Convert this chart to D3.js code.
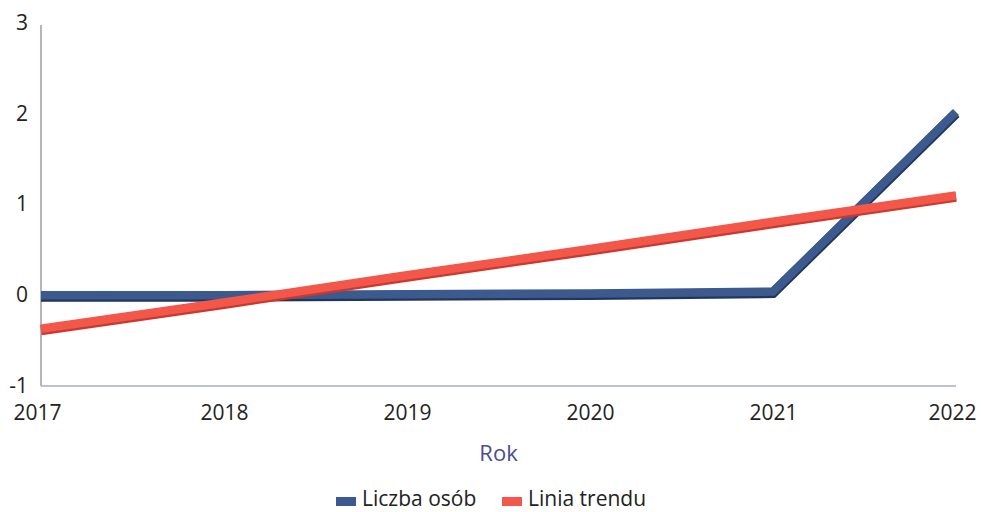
<!DOCTYPE html>
<html><head><meta charset="utf-8">
<script src="https://cdn.jsdelivr.net/npm/d3@7"></script>
<style>body{margin:0;background:#fff}svg{display:block}text{font-family:"Open Sans","Noto Sans",sans-serif}</style>
</head><body><svg id="c" width="981" height="512"></svg>
<script>
const years = [2017, 2018, 2019, 2020, 2021, 2022];
const liczbaOsob = [0, 0, 0.01, 0.02, 0.04, 2.02];
const liniaTrendu = [-0.37, -0.08, 0.22, 0.51, 0.81, 1.1];
const yTicks = [-1, 0, 1, 2, 3];
const seriesNames = ["Liczba osób", "Linia trendu"];
const colors = ["#3d5a8e", "#f2574a"];
const shadow = ["#22355e", "#c9392f"];

const svg = d3.select("#c");
const x = d3.scaleLinear().domain([2017, 2022]).range([41, 956]);
const y = d3.scaleLinear().domain([-1, 3]).range([386, 23]);

// axes lines
const g = svg.append("g");
g.append("line").attr("x1", x(2017)).attr("x2", x(2017)).attr("y1", y(3) + 2).attr("y2", y(-1))
  .attr("stroke", "#9a9cb4").attr("stroke-width", 1.5);
g.append("line").attr("x1", x(2017)).attr("x2", x(2022)).attr("y1", y(-1)).attr("y2", y(-1))
  .attr("stroke", "#a9abc4").attr("stroke-width", 1.5);

// y tick labels
const yAxis = d3.axisLeft(y).tickValues(yTicks).tickSize(0).tickPadding(0).tickFormat(d => String(d));
const ya = svg.append("g").attr("transform", `translate(${x(2017) - 13},0)`).call(yAxis);
ya.select(".domain").remove();
ya.selectAll("text").attr("font-size", 21).attr("fill", "#222").attr("dy", "0.3em");

// x tick labels
const xAxis = d3.axisBottom(x).tickValues(years).tickSize(0).tickPadding(0).tickFormat(d => String(d));
const xa = svg.append("g").attr("transform", `translate(0,${y(-1)})`).call(xAxis);
xa.select(".domain").remove();
xa.selectAll("text").attr("font-size", 21).attr("fill", "#222").attr("y", 34).attr("dy", 0);
xa.selectAll(".tick").filter(d => d === 2022).select("text").attr("dx", "-4");
xa.selectAll(".tick").filter(d => d === 2017).select("text").attr("dx", "-4");

// axis title
svg.append("text").attr("x", (x(2017) + x(2022)) / 2).attr("y", 461).attr("text-anchor", "middle")
  .attr("font-size", 22).attr("fill", "#4b4d8c").text("Rok");

// lines
const line = d3.line().x((d, i) => x(years[i])).y(d => y(d));
const data = [liczbaOsob, liniaTrendu];
data.forEach((s, k) => {
  svg.append("path").attr("d", line(s)).attr("fill", "none").attr("stroke", shadow[k])
    .attr("stroke-width", 10).attr("transform", "translate(0,1.5)").attr("stroke-linejoin", "miter");
  svg.append("path").attr("d", line(s)).attr("fill", "none").attr("stroke", colors[k])
    .attr("stroke-width", 8.5).attr("stroke-linejoin", "miter");
});

// legend
const legendX = [336, 502];
seriesNames.forEach((n, k) => {
  svg.append("rect").attr("x", legendX[k]).attr("y", 497).attr("width", 20).attr("height", 9).attr("fill", colors[k]);
  svg.append("text").attr("x", legendX[k] + 26).attr("y", 506).attr("font-size", 21).attr("fill", "#222").text(n);
});
</script></body></html>
